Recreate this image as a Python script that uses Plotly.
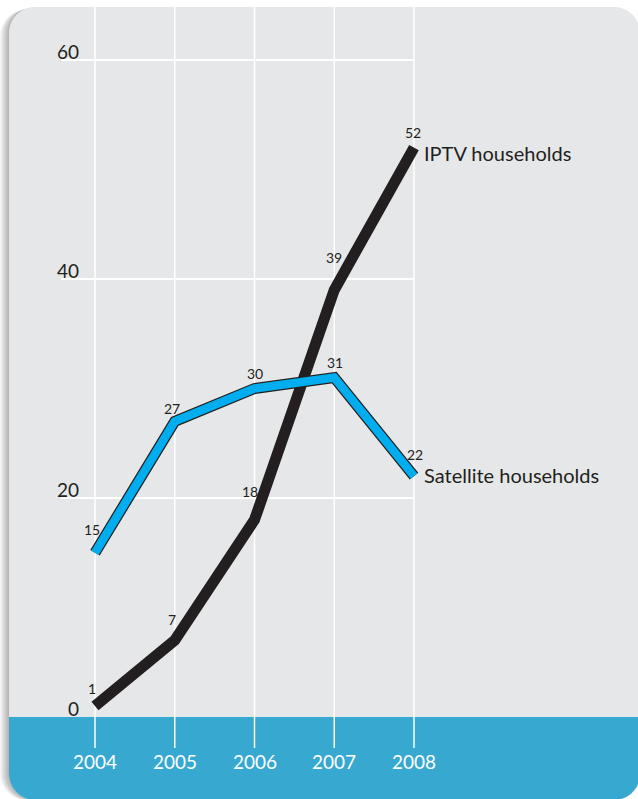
import plotly.graph_objects as go

# data
years = [2004, 2005, 2006, 2007, 2008]
iptv = [1, 7, 18, 39, 52]
satellite = [15, 27, 30, 31, 22]
y_ticks = [0, 20, 40, 60]
series_names = ["IPTV households", "Satellite households"]

# label offsets (px) for the value labels, per point
iptv_off = [(-3, 18), (-3, 21), (-5, 28), (0, 32), (-1, 15)]
sat_off = [(-3, 23), (-3, 13), (0, 15), (1, 15), (1, 22)]

W, H = 638, 799
FONT = "Lato"
TXT = "#231f20"
PANEL = "#e6e7e8"
BAND = "#37a8cf"
BLUE = "#00aeef"
BLACK = "#231f20"

# pixel mapping: 2004 -> 95px, 79.75px per year ; 0 -> 717px, 10.95px per unit
px_year = 79.75
x0 = years[0] - 95 / px_year
x_range = [x0, x0 + W / px_year]
px_unit = 10.95
y_range = [-(H - 717) / px_unit, 717 / px_unit]


def px(x):
    return x / W


def py(y):
    return 1 - y / H


def rounded_rect(l, t, r, b, rad, top=True):
    k = 0.45  # bezier approx
    if top:
        s = f"M {px(l)},{py(t + rad)} C {px(l)},{py(t + rad * k)} {px(l + rad * k)},{py(t)} {px(l + rad)},{py(t)} "
        s += f"L {px(r - rad)},{py(t)} C {px(r - rad * k)},{py(t)} {px(r)},{py(t + rad * k)} {px(r)},{py(t + rad)} "
    else:
        s = f"M {px(l)},{py(t)} L {px(r)},{py(t)} "
    s += f"L {px(r)},{py(b - rad)} C {px(r)},{py(b - rad * k)} {px(r - rad * k)},{py(b)} {px(r - rad)},{py(b)} "
    s += f"L {px(l + rad)},{py(b)} C {px(l + rad * k)},{py(b)} {px(l)},{py(b - rad * k)} {px(l)},{py(b - rad)} Z"
    return s


shapes = []
# soft shadow on the left
for i in range(1, 10):
    shapes.append(dict(type="path", xref="paper", yref="paper", layer="below",
                       path=rounded_rect(9 - i, 7 + i * 0.3, 640, 800, 26),
                       fillcolor="rgba(0,0,0,0.035)", line=dict(width=0)))
# panel
shapes.append(dict(type="path", xref="paper", yref="paper", layer="below",
                   path=rounded_rect(9, 7, 640, 800, 26),
                   fillcolor=PANEL, line=dict(width=0)))
# blue band
shapes.append(dict(type="path", xref="paper", yref="paper", layer="below",
                   path=rounded_rect(9, 717, 640, 800, 26, top=False),
                   fillcolor=BAND, line=dict(width=0)))
# vertical grid lines
for yr in years:
    shapes.append(dict(type="line", xref="x", yref="paper", layer="below",
                       x0=yr, x1=yr, y0=py(748), y1=py(7),
                       line=dict(color="white", width=1.5)))
# horizontal grid lines
for t in y_ticks[1:]:
    shapes.append(dict(type="line", xref="x", yref="y", layer="below",
                       x0=years[0] - 34 / px_year, x1=years[-1], y0=t, y1=t,
                       line=dict(color="white", width=2)))

fig = go.Figure()
fig.add_trace(go.Scatter(x=years, y=iptv, mode="lines", name=series_names[0],
                         line=dict(color=BLACK, width=11), hoverinfo="x+y"))
fig.add_trace(go.Scatter(x=years, y=satellite, mode="lines", showlegend=False,
                         line=dict(color=BLACK, width=11), hoverinfo="skip"))
fig.add_trace(go.Scatter(x=years, y=satellite, mode="lines", name=series_names[1],
                         line=dict(color=BLUE, width=8.5), hoverinfo="x+y"))

ann = []
for t in y_ticks:
    ann.append(dict(x=years[0], y=t, text=str(t), showarrow=False, xanchor="right",
                    yanchor="middle", xshift=-14, yshift=9,
                    font=dict(family=FONT, size=19, color=TXT)))
for yr in years:
    ann.append(dict(x=yr, y=0, text=str(yr), showarrow=False, xanchor="center",
                    yanchor="middle", yshift=-44,
                    font=dict(family=FONT, size=19, color="white")))
for vals, offs in ((iptv, iptv_off), (satellite, sat_off)):
    for yr, v, (dx, dy) in zip(years, vals, offs):
        ann.append(dict(x=yr, y=v, text=str(v), showarrow=False, xanchor="center",
                        yanchor="middle", xshift=dx, yshift=dy,
                        font=dict(family=FONT, size=14, color=TXT)))
ann.append(dict(x=years[-1], y=iptv[-1], text=series_names[0], showarrow=False,
                xanchor="left", yanchor="middle", xshift=8, yshift=-5,
                font=dict(family=FONT, size=20, color=TXT)))
ann.append(dict(x=years[-1], y=satellite[-1], text=series_names[1], showarrow=False,
                xanchor="left", yanchor="middle", xshift=8, yshift=1,
                font=dict(family=FONT, size=20, color=TXT)))

fig.update_layout(
    width=W, height=H,
    margin=dict(l=0, r=0, t=0, b=0),
    paper_bgcolor="white", plot_bgcolor="white",
    showlegend=False,
    shapes=shapes,
    annotations=ann,
    xaxis=dict(range=x_range, visible=False, fixedrange=True),
    yaxis=dict(range=y_range, visible=False, fixedrange=True),
)

# drop the default page margin so the figure sits at the window's corner
fig.write_html("out.html", config=dict(displayModeBar=False),
               post_script="document.body.style.margin='0px';")
